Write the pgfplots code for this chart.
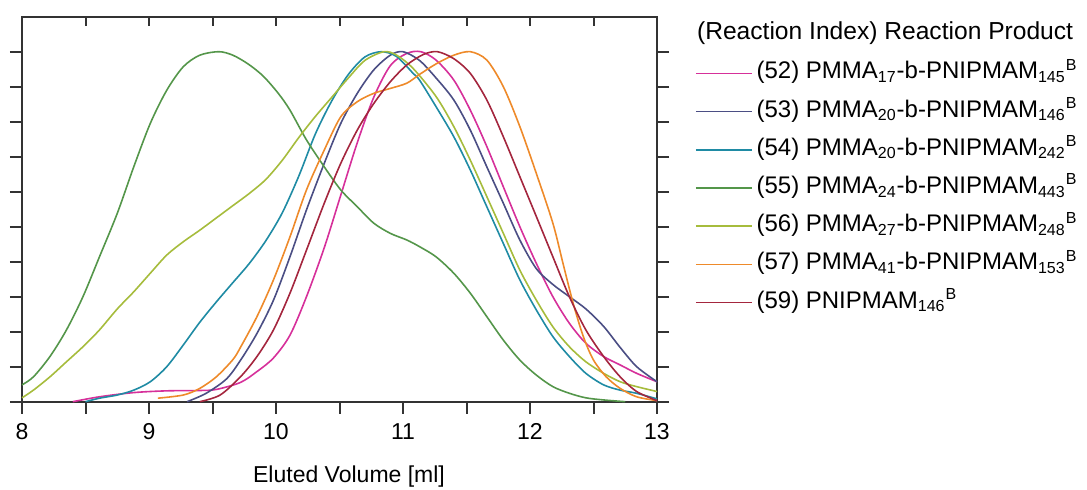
\documentclass[border=0pt]{standalone}
\usepackage{fontspec}
\setmainfont{Liberation Sans}
\usepackage{pgfplots}
\pgfplotsset{compat=1.18}

\definecolor{c52}{RGB}{214,48,154}
\definecolor{c53}{RGB}{75,78,132}
\definecolor{c54}{RGB}{31,139,164}
\definecolor{c55}{RGB}{84,150,74}
\definecolor{c56}{RGB}{166,188,60}
\definecolor{c57}{RGB}{238,138,42}
\definecolor{c59}{RGB}{164,38,62}

\begin{document}
\begin{tikzpicture}
\begin{axis}[
    scale only axis,
    width=317.5pt, height=192.5pt,
    xmin=8, xmax=13, ymin=0, ymax=1.1,
    xtick={8,9,10,11,12,13},
    minor xtick={8.5,9.5,10.5,11.5,12.5},
    ytick={0,0.1,0.2,0.3,0.4,0.5,0.6,0.7,0.8,0.9,1.0},
    yticklabels={},
    xtick pos=bottom, ytick pos=both,
    tick align=outside,
    major tick length=6pt, minor tick length=6pt,
    every tick/.style={line width=1pt, black!80},
    axis line style={line width=1pt, black!80},
    /pgf/number format/assume math mode=true,
    xticklabel style={font=\fontsize{11.5}{13}\selectfont, yshift=-1.5pt},
    xlabel={Eluted Volume [ml]},
    every axis x label/.style={at={(axis description cs:0.515,0)}, anchor=base,
        yshift=-40.6pt, font=\fontsize{11.5}{13}\selectfont},
    clip=false,
    every axis plot/.append style={line width=0.8pt, smooth, no marks},
    legend image code/.code={\draw[#1] (0pt,0pt) -- (28pt,0pt);},
    legend cell align=left,
    legend style={draw=none, fill=none, at={(1.0598,0.8825)}, anchor=north west,
        inner sep=0pt, outer sep=0pt, row sep=7.6pt, column sep=2pt,
        nodes={inner sep=0pt, text height=8.5pt, text depth=3pt,
        font=\fontsize{12}{14}\selectfont}},
]
\coordinate (O) at (rel axis cs:0,0);

% (52)
\addplot[color=c52] coordinates {
 (8.40,0) (8.61,0.014) (8.88,0.026) (9.14,0.031) (9.40,0.032) (9.53,0.035)
 (9.72,0.055) (9.85,0.086) (9.98,0.125) (10.11,0.19) (10.24,0.30) (10.38,0.44)
 (10.51,0.59) (10.64,0.74) (10.77,0.87) (10.90,0.96) (11.03,0.995) (11.14,1.0)
 (11.26,0.976) (11.40,0.919) (11.53,0.833) (11.66,0.729) (11.79,0.614)
 (11.92,0.50) (12.05,0.395) (12.18,0.30) (12.31,0.224) (12.44,0.167)
 (12.58,0.129) (12.71,0.105) (12.84,0.081) (13.00,0.057)
};
\addlegendentry{(52) PMMA\textsubscript{17}-b-PNIPMAM\textsubscript{145}\textsuperscript{B}}

% (53)
\addplot[color=c53] coordinates {
 (9.30,0) (9.45,0.024) (9.61,0.065) (9.72,0.118) (9.85,0.195) (9.98,0.29)
 (10.11,0.414) (10.24,0.548) (10.38,0.681) (10.51,0.795) (10.64,0.881)
 (10.77,0.948) (10.90,0.99) (11.00,1.0) (11.13,0.975) (11.26,0.925)
 (11.40,0.862) (11.53,0.776) (11.66,0.671) (11.79,0.567) (11.92,0.462)
 (12.05,0.38) (12.18,0.335) (12.31,0.30) (12.44,0.265) (12.58,0.215)
 (12.71,0.155) (12.84,0.10) (13.00,0.057)
};
\addlegendentry{(53) PMMA\textsubscript{20}-b-PNIPMAM\textsubscript{146}\textsuperscript{B}}

% (54)
\addplot[color=c54] coordinates {
 (8.50,0) (8.61,0.01) (8.75,0.019) (8.88,0.033) (9.01,0.057) (9.14,0.10)
 (9.27,0.162) (9.40,0.227) (9.53,0.285) (9.66,0.34) (9.79,0.395) (9.92,0.46)
 (10.05,0.54) (10.18,0.645) (10.31,0.765) (10.44,0.86) (10.57,0.935)
 (10.70,0.985) (10.83,1.0) (10.95,0.986) (11.08,0.938)
 (11.13,0.919) (11.26,0.843) (11.40,0.757) (11.53,0.662) (11.66,0.557)
 (11.79,0.452) (11.92,0.348) (12.05,0.262) (12.18,0.186) (12.31,0.129)
 (12.44,0.081) (12.58,0.048) (12.71,0.033) (12.84,0.024) (13.00,0.008)
};
\addlegendentry{(54) PMMA\textsubscript{20}-b-PNIPMAM\textsubscript{242}\textsuperscript{B}}

% (55)
\addplot[color=c55] coordinates {
 (8.00,0.048) (8.09,0.071) (8.22,0.129) (8.35,0.205) (8.48,0.30) (8.61,0.414)
 (8.75,0.538) (8.88,0.671) (9.01,0.795) (9.14,0.89) (9.27,0.957) (9.40,0.99)
 (9.55,1.0) (9.66,0.99) (9.78,0.965) (9.90,0.93) (10.02,0.88) (10.11,0.833)
 (10.24,0.748) (10.38,0.671) (10.51,0.605) (10.64,0.557) (10.77,0.51)
 (10.90,0.481) (11.03,0.462) (11.13,0.443) (11.26,0.414) (11.40,0.367)
 (11.53,0.31) (11.66,0.243) (11.79,0.176) (11.92,0.119) (12.05,0.076)
 (12.18,0.043) (12.31,0.024) (12.44,0.011) (12.58,0.005) (12.75,0)
};
\addlegendentry{(55) PMMA\textsubscript{24}-b-PNIPMAM\textsubscript{443}\textsuperscript{B}}

% (56)
\addplot[color=c56] coordinates {
 (8.00,0.011) (8.09,0.033) (8.22,0.071) (8.35,0.114) (8.48,0.157) (8.61,0.205)
 (8.75,0.265) (8.88,0.314) (9.01,0.367) (9.14,0.419) (9.27,0.457) (9.40,0.49)
 (9.53,0.525) (9.66,0.56) (9.79,0.595) (9.92,0.635) (10.05,0.69) (10.18,0.755)
 (10.31,0.815) (10.44,0.87) (10.57,0.925) (10.70,0.975) (10.85,1.0)
 (10.95,0.99) (11.08,0.952) (11.26,0.872) (11.40,0.786)
 (11.53,0.69) (11.66,0.586) (11.79,0.481) (11.92,0.376) (12.05,0.29)
 (12.18,0.214) (12.31,0.157) (12.44,0.114) (12.58,0.081) (12.71,0.057)
 (12.84,0.043) (13.00,0.029)
};
\addlegendentry{(56) PMMA\textsubscript{27}-b-PNIPMAM\textsubscript{248}\textsuperscript{B}}

% (57)
\addplot[color=c57] coordinates {
 (9.07,0.01) (9.27,0.019) (9.40,0.038) (9.53,0.071) (9.66,0.12) (9.72,0.155)
 (9.85,0.243) (9.98,0.348) (10.11,0.471) (10.24,0.605) (10.38,0.719)
 (10.51,0.814) (10.64,0.857) (10.77,0.881) (10.90,0.895) (11.03,0.91)
 (11.13,0.935) (11.26,0.965) (11.40,0.99) (11.53,1.0) (11.66,0.976)
 (11.79,0.90) (11.92,0.786) (12.05,0.652) (12.18,0.51) (12.26,0.395)
 (12.34,0.281) (12.42,0.186) (12.50,0.119) (12.60,0.071) (12.71,0.038)
 (12.84,0.014) (13.00,0.003)
};
\addlegendentry{(57) PMMA\textsubscript{41}-b-PNIPMAM\textsubscript{153}\textsuperscript{B}}

% (59)
\addplot[color=c59] coordinates {
 (9.40,0) (9.56,0.019) (9.72,0.071) (9.85,0.129) (9.98,0.205) (10.11,0.31)
 (10.24,0.433) (10.38,0.567) (10.51,0.681) (10.64,0.776) (10.77,0.852)
 (10.90,0.914) (11.03,0.962) (11.16,0.992) (11.27,1.0) (11.40,0.98)
 (11.53,0.938) (11.66,0.862) (11.79,0.757) (11.92,0.643) (12.05,0.529)
 (12.18,0.414) (12.31,0.30) (12.44,0.205) (12.58,0.129) (12.71,0.071)
 (12.84,0.029) (13.00,0.003)
};
\addlegendentry{(59) PNIPMAM\textsubscript{146}\textsuperscript{B}}

\node[anchor=base west, inner sep=0pt, font=\fontsize{12.3}{14}\selectfont]
    at (rel axis cs:1.0625,0.942) {(Reaction Index) Reaction Product};
\end{axis}

% inward ticks along the top edge
\begin{axis}[
    scale only axis,
    width=317.5pt, height=192.5pt,
    xmin=8, xmax=13, ymin=0, ymax=1.1,
    xtick={8.5,9,9.5,10,10.5,11,11.5,12,12.5},
    xticklabels={}, ytick=\empty,
    xtick pos=top, tick align=inside,
    major tick length=4.5pt,
    every tick/.style={line width=1pt, black!80},
    axis line style={draw=none},
]
\end{axis}

\pgfresetboundingbox
\path[use as bounding box] (O) ++(-11pt,-44.15pt) rectangle ++(543.5pt,245pt);
\end{tikzpicture}
\end{document}
